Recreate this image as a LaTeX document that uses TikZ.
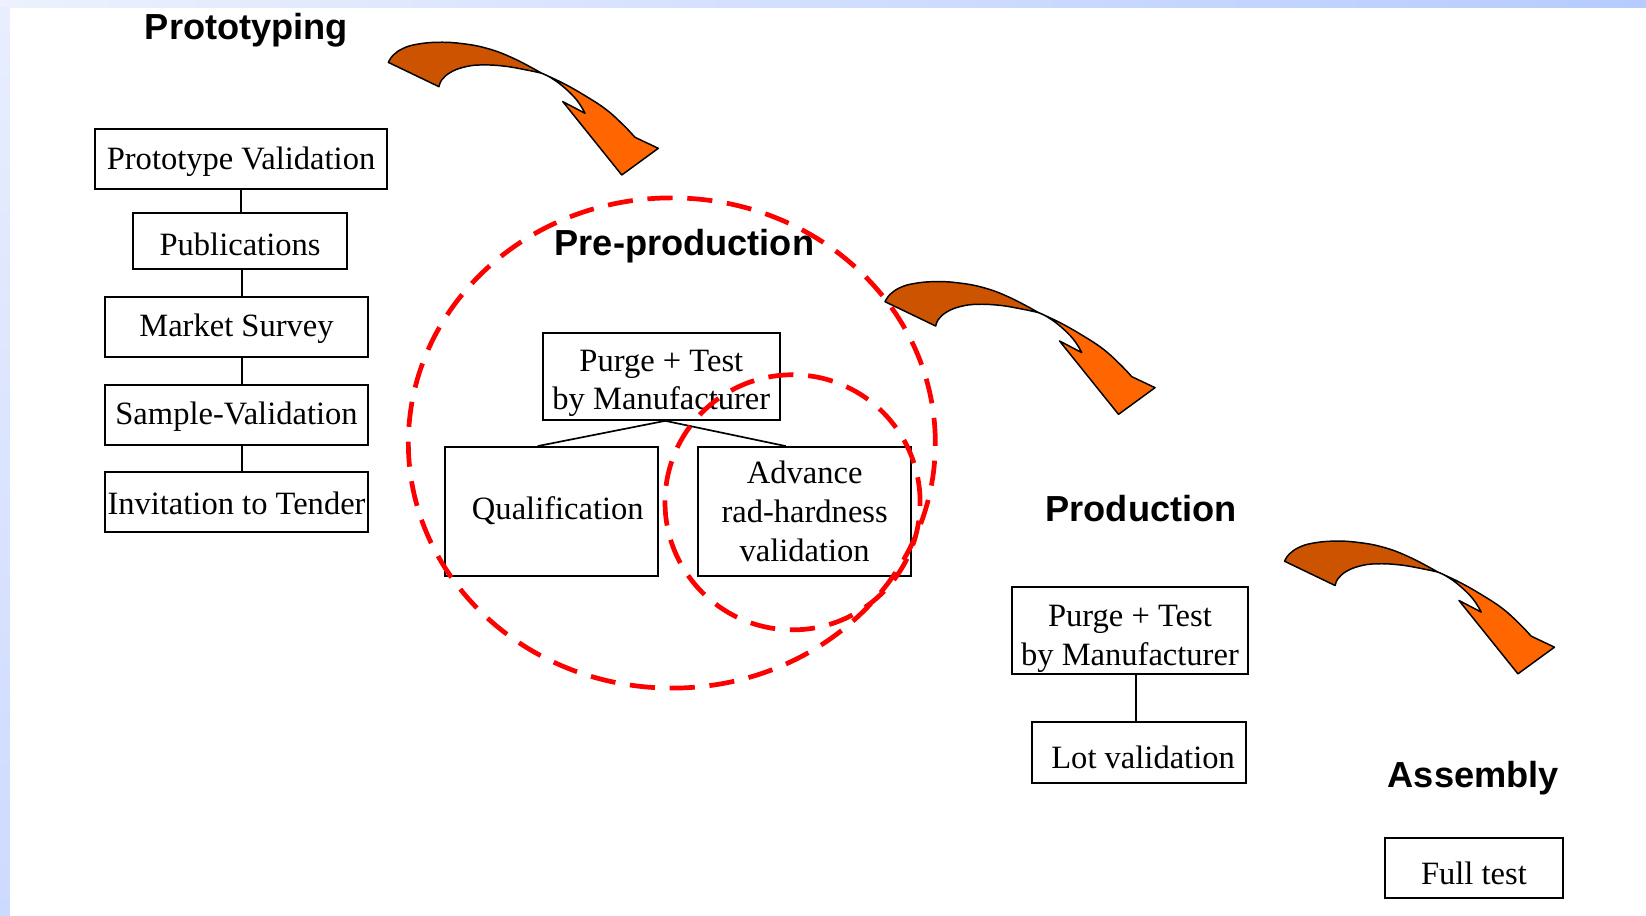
\documentclass[tikz,border=0pt]{standalone}
\usepackage{fontspec}
\setmainfont{Liberation Serif}
\newfontfamily\titlefont{Liberation Sans}
\definecolor{arrowdark}{RGB}{204,84,0}
\definecolor{arrowlight}{RGB}{255,102,0}
\definecolor{barL}{RGB}{236,241,253}
\definecolor{barR}{RGB}{182,203,255}
\definecolor{sideT}{RGB}{232,238,254}
\definecolor{sideB}{RGB}{205,218,255}
\newcommand\lowtext[2]{\raisebox{-#1pt}[\height][\depth]{\begin{tabular}{@{}c@{}}#2\end{tabular}}}
\newcommand\bentarrow[1]{%
\begin{scope}[shift={(#1)}]
\filldraw[back] plot[smooth,tension=0.7] coordinates {(369.9,59.4) (374.7,52.4) (384.2,46.0) (397.0,42.2) (416.0,40.3) (438.2,41.3) (463.7,46.0) (489.0,55.5) (516.1,69.8)}
  -- plot[smooth,tension=0.7] coordinates {(516.1,69.8) (501.8,66.7) (479.5,62.9) (457.3,61.9) (441.4,64.1) (428.7,69.2) (420.8,76.2) (418.2,82.6)} -- cycle;
\filldraw[front] plot[smooth,tension=0.7] coordinates {(516.1,69.8) (536.6,79.4) (558.9,92.1) (578.0,104.8) (593.8,119.1) (604.9,130.8)}
  -- (627.1,141.3) -- (592.3,166.7) -- (536.1,96.8)
  -- plot[smooth,tension=0.7] coordinates {(557.3,107.9) (549.4,95.3) (536.6,82.6) (524.0,73.6) (516.1,69.8)} -- cycle;
\end{scope}}
\begin{document}
\begin{tikzpicture}[x=1pt,y=-1pt,
  box/.style={draw,line width=1.8pt,inner sep=0pt,font=\fontsize{31}{37}\selectfont},
  title/.style={font=\titlefont\bfseries\fontsize{34.5}{40}\selectfont,anchor=base,inner sep=0pt},
  link/.style={line width=1.6pt},
  ring/.style={draw=red,line width=4.5pt,dash pattern=on 24pt off 14pt},
  back/.style={fill=arrowdark,draw=black,line width=1.4pt,line join=round},
  front/.style={fill=arrowlight,draw=black,line width=1.4pt,line join=round}]
\useasboundingbox (0,0) rectangle (1568,872);
\fill[white] (0,0) rectangle (1568,872);
\shade[left color=barL,right color=barR] (0,0) rectangle (1568,7.6);
\shade[top color=sideT,bottom color=sideB] (0,7.6) rectangle (9.5,872);

% Prototyping column
\node[box,minimum width=278.2pt,minimum height=57.1pt] (pv) at (229.6,151.45) {\lowtext{2.7}{Prototype Validation}};
\node[box,minimum width=203.9pt,minimum height=53.4pt] (pub) at (228.65,229.6) {\lowtext{6}{Publications}};
\node[box,minimum width=250.6pt,minimum height=57pt] (ms) at (225.3,311.5) {\lowtext{1.7}{Market Survey}};
\node[box,minimum width=250.6pt,minimum height=57.2pt] (sv) at (225.3,395.4) {\lowtext{1.7}{Sample-Validation}};
\node[box,minimum width=250.6pt,minimum height=57.1pt] (it) at (225.3,478.25) {\lowtext{4}{Invitation to Tender}};
\draw[link] (pv.south) -- (pv.south |- pub.north);
\draw[link] ([xshift=2pt]pub.south) -- ([xshift=2pt]pub.south |- ms.north);
\draw[link] ([xshift=5.2pt]ms.south) -- ([xshift=5.2pt]sv.north);
\draw[link] ([xshift=5.2pt]sv.south) -- ([xshift=5.2pt]it.north);

% Pre-production
\node[box,minimum width=226pt,minimum height=83pt] (pp) at (630,358.5) {\lowtext{6.1}{Purge + Test\\by Manufacturer}};
\node[box,minimum width=203.4pt,minimum height=122.9pt] (qual) at (525.4,487.3) {\lowtext{0.3}{\hspace*{12pt}Qualification}};
\node[box,minimum width=203.3pt,minimum height=122.9pt] (adv) at (766.5,487.3) {\lowtext{3}{Advance\\rad-hardness\\validation}};
\draw[link] ([xshift=3.7pt]pp.south) -- ([xshift=-13.2pt]qual.north);
\draw[link] ([xshift=3.7pt]pp.south) -- ([xshift=-18pt]adv.north);

% Production
\node[box,minimum width=225.2pt,minimum height=83pt] (prp) at (1076.4,600.5) {\lowtext{7.6}{Purge + Test\\by Manufacturer}};
\node[box,minimum width=204.2pt,minimum height=58.2pt] (lot) at (1084.9,716.9) {\lowtext{8}{\hspace*{8pt}Lot validation}};
\draw[link] ([xshift=5.6pt]prp.south) -- ([xshift=5.6pt]prp.south |- lot.north);

% Assembly
\node[box,minimum width=169.2pt,minimum height=57.8pt] (ft) at (1404.1,826.9) {\lowtext{8}{Full test}};

% Titles
\node[title] (tproto) at (234.8,37.5) {Prototyping};
\node[title] (tpre) at (652,243) {Pre-production};
\node[title] (tprod) at (1087,496.5) {Production};
\node[title] (tass) at (1403.5,750) {Assembly};

% dashed rings
\draw[ring] (640,422) ellipse [x radius=251pt, y radius=233.5pt];
\draw[ring] (755,478.5) circle [radius=121.5pt];

% bent arrows
\bentarrow{0,0}
\bentarrow{473.2,228}
\bentarrow{853.7,475.2}
\end{tikzpicture}
\end{document}
